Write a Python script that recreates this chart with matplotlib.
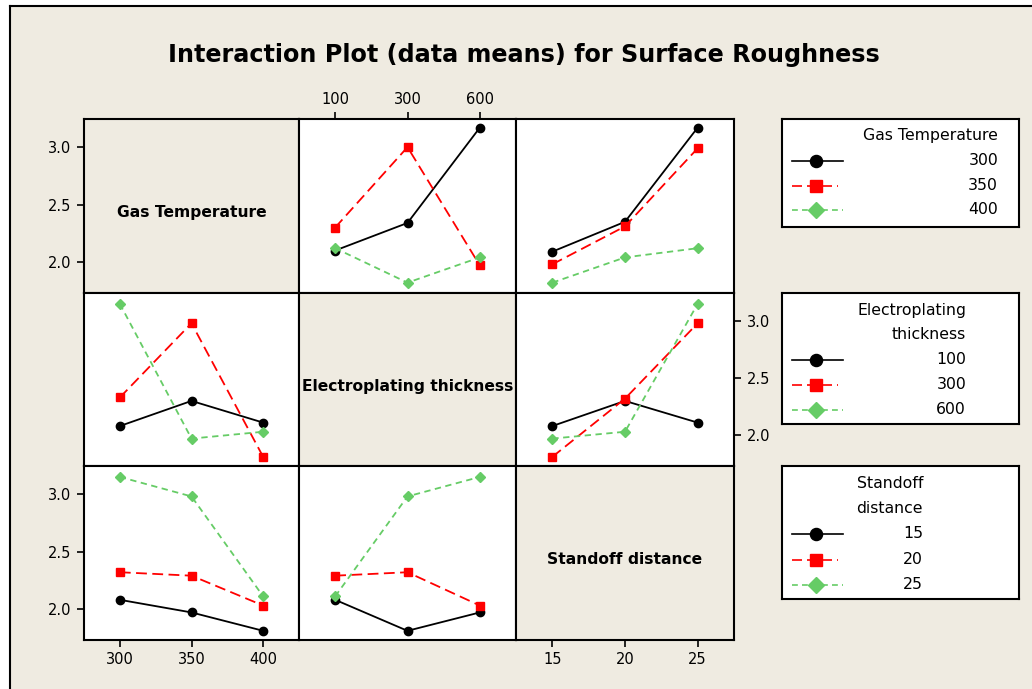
import matplotlib.pyplot as plt
from matplotlib.lines import Line2D
from matplotlib.patches import Rectangle

W, H = 1032, 689
BG = "#EFEBE1"
GREEN = "#66CC66"

# factor levels
gas_temp = ["300", "350", "400"]
thickness = ["100", "300", "600"]
standoff = ["15", "20", "25"]
factor_names = ["Gas Temperature", "Electroplating thickness", "Standoff distance"]
factor_levels = [gas_temp, thickness, standoff]

# data means; each row is one level of the trace (row) factor, columns follow the x factor
gas_vs_thickness = [[2.10, 2.34, 3.17], [2.30, 3.00, 1.97], [2.12, 1.82, 2.04]]
gas_vs_standoff = [[2.09, 2.35, 3.17], [1.98, 2.31, 2.99], [1.82, 2.04, 2.12]]
thk_vs_gas = [[2.08, 2.30, 2.11], [2.33, 2.98, 1.81], [3.15, 1.97, 2.03]]
thk_vs_standoff = [[2.08, 2.30, 2.11], [1.81, 2.32, 2.98], [1.97, 2.03, 3.15]]
std_vs_gas = [[2.08, 1.97, 1.81], [2.32, 2.29, 2.03], [3.15, 2.98, 2.11]]
std_vs_thickness = [[2.08, 1.81, 1.97], [2.29, 2.32, 2.03], [2.11, 2.98, 3.15]]

panel_data = {
    (0, 1): gas_vs_thickness,
    (0, 2): gas_vs_standoff,
    (1, 0): thk_vs_gas,
    (1, 2): thk_vs_standoff,
    (2, 0): std_vs_gas,
    (2, 1): std_vs_thickness,
}

STYLES = [
    dict(color="black", linestyle="-", marker="o", markersize=6, lw=1.3),
    dict(color="red", linestyle=(0, (6, 3)), marker="s", markersize=6, lw=1.3),
    dict(color=GREEN, linestyle=(0, (3.5, 2.5)), marker="D", markersize=5.5, lw=1.3),
]

plt.rcParams.update({"font.family": "DejaVu Sans", "font.size": 10.5})

fig = plt.figure(figsize=(W / 100, H / 100), dpi=100, facecolor="white")
fig.patches.append(Rectangle((10 / W, 0), 1, 1 - 6 / H, transform=fig.transFigure,
                             facecolor=BG, edgecolor="none", zorder=-10))
fig.add_artist(Line2D([10 / W, 10 / W], [0, 1 - 6 / H], color="black", lw=1.5,
                      transform=fig.transFigure))
fig.add_artist(Line2D([10 / W, 1], [1 - 6 / H, 1 - 6 / H], color="black", lw=1.5,
                      transform=fig.transFigure))


def px_axes(left, top, right, bottom):
    return fig.add_axes([left / W, 1 - bottom / H, (right - left) / W, (bottom - top) / H])


fig.text(524 / W, 1 - 55 / H, "Interaction Plot (data means) for Surface Roughness",
         ha="center", va="center", fontsize=17.2, fontweight="bold")

col_edges = [84, 299, 516, 734]
row_edges = [119, 293, 466, 640]

for r in range(3):
    for c in range(3):
        ax = px_axes(col_edges[c], row_edges[r], col_edges[c + 1], row_edges[r + 1])
        ax.set_xlim(-0.5, 2.5)
        ax.set_ylim(1.73, 3.245)
        ax.set_xticks([0, 1, 2])
        ax.set_yticks([2.0, 2.5, 3.0])
        for s in ax.spines.values():
            s.set_linewidth(1.5)
        ax.tick_params(left=False, bottom=False, labelleft=False, labelbottom=False,
                       length=5, width=1.2, pad=4, labelsize=10.5)
        if r == c:
            ax.set_facecolor(BG)
            ax.text(0.5, 0.46, factor_names[r], transform=ax.transAxes, ha="center",
                    va="center", fontsize=11.2, fontweight="bold")
        else:
            ax.set_facecolor("white")
            for i, ys in enumerate(panel_data[(r, c)]):
                ax.plot([0, 1, 2], ys, **STYLES[i])
        ax.set_xticklabels(factor_levels[c])
        ax.set_yticklabels(["2.0", "2.5", "3.0"])
        if c == 0 and r in (0, 2):
            ax.tick_params(left=True, labelleft=True)
        if r == 2 and c in (0, 2):
            ax.tick_params(bottom=True, labelbottom=True)
        if r == 0 and c == 1:
            ax.tick_params(top=True, labeltop=True)
        if r == 1 and c == 2:
            ax.tick_params(right=True, labelright=True)

# legend boxes
legend_boxes = [
    (119, 227, ["Gas Temperature"], gas_temp, 216, [16.7], [41.7, 67, 91]),
    (293, 424, ["Electroplating", "thickness"], thickness, 184, [17, 41.3], [66.7, 91.7, 117]),
    (466, 599, ["Standoff", "distance"], standoff, 141, [17.3, 42.3], [68, 93.7, 118.7]),
]
for top, bottom, title_lines, labels, right_x, title_y, entry_y in legend_boxes:
    lax = px_axes(782, top, 1019, bottom)
    lax.set_xlim(0, 237)
    lax.set_ylim(bottom - top, 0)
    lax.set_xticks([])
    lax.set_yticks([])
    lax.set_facecolor("white")
    for s in lax.spines.values():
        s.set_linewidth(1.5)
    for line, y in zip(title_lines, title_y):
        lax.text(right_x, y, line, ha="right", va="center", fontsize=11.3)
    for i, (lab, y) in enumerate(zip(labels, entry_y)):
        st = dict(STYLES[i])
        st["markersize"] = st["markersize"] * 1.45
        st["lw"] = 1.2
        end = 56 if i == 1 else 61
        lax.plot([10, end], [y, y], markevery=[], **st)
        lax.plot([34], [y], **st)
        lax.text(right_x, y, lab, ha="right", va="center", fontsize=11.3)

fig.savefig("out.png", dpi=100, facecolor=fig.get_facecolor())
